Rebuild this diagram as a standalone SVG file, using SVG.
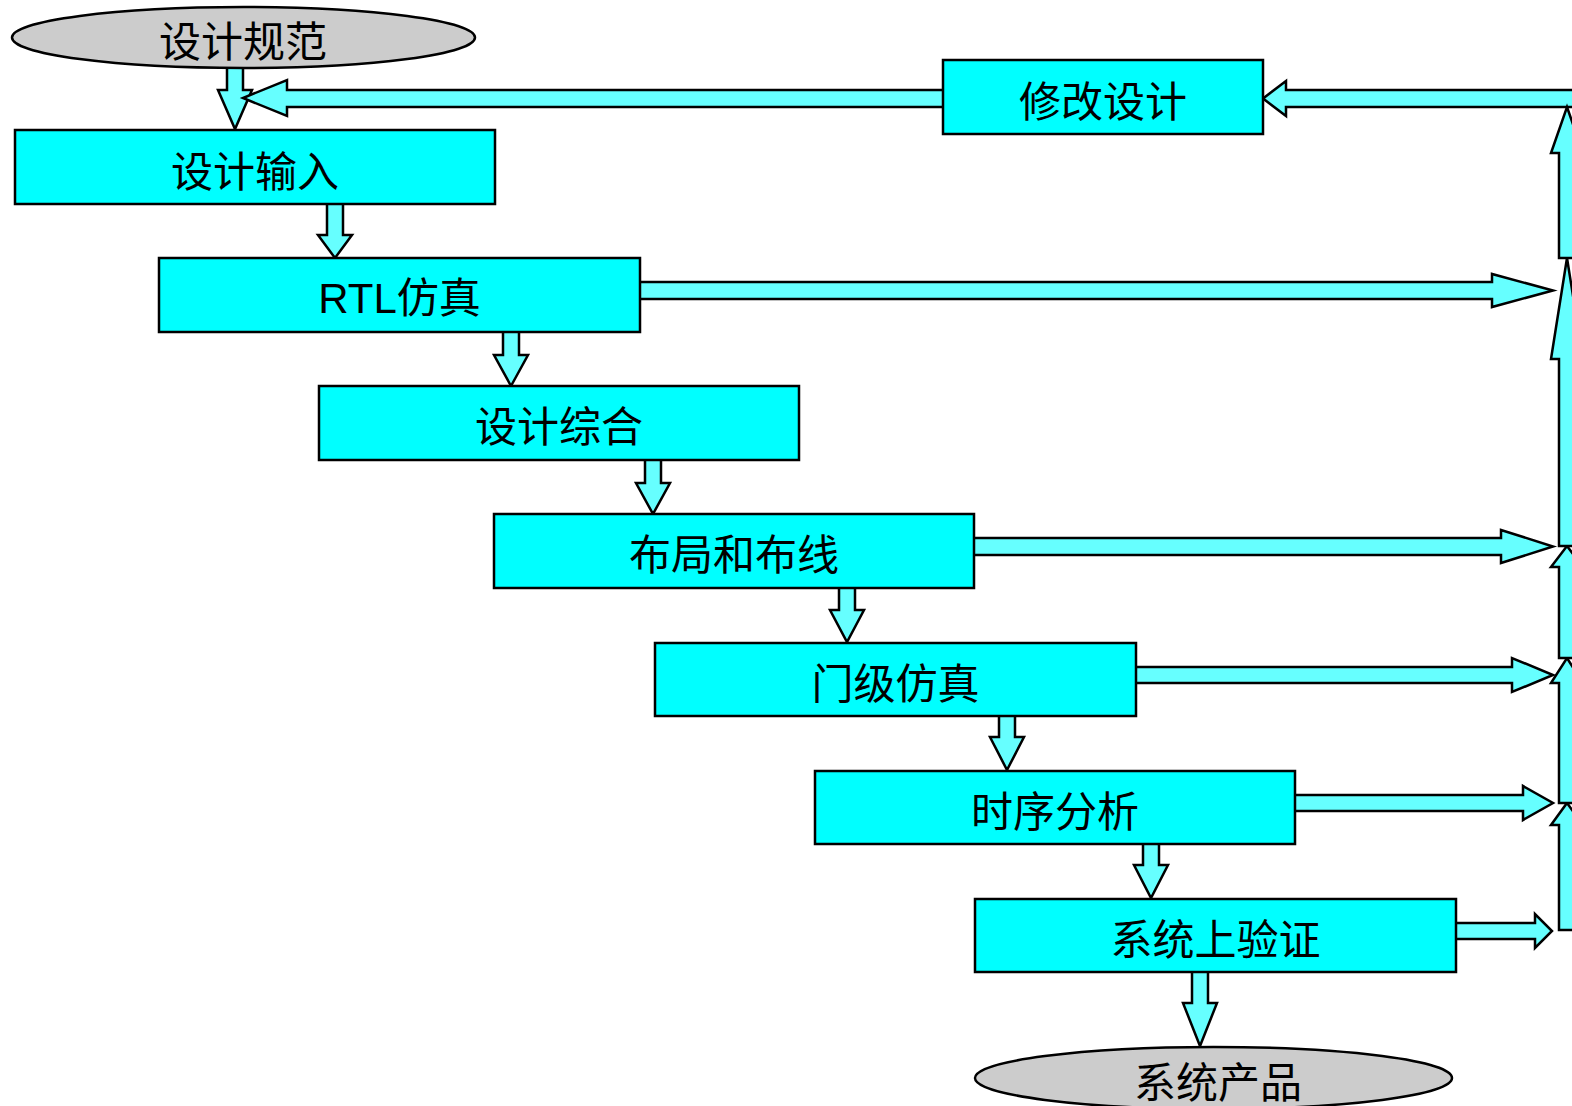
<svg xmlns="http://www.w3.org/2000/svg" width="1572" height="1106" viewBox="0 0 1572 1106">
<style>
.box{fill:#00FFFF;stroke:#000;stroke-width:2.5}
.oval{fill:#CCCCCC;stroke:#000;stroke-width:2.5}
.arr{fill:#66FFFF;stroke:#000;stroke-width:2.5;stroke-linejoin:miter}
.t{font-family:"Liberation Sans","Noto Sans CJK SC",sans-serif;font-size:42px;fill:#000;text-anchor:middle}
</style>
<rect width="1572" height="1106" fill="#fff"/>
<g id="connectors">
<polygon class="arr" points="227,60 243,60 243,90 252,90 235,129 218,90 227,90"/>
<polygon class="arr" points="947,90 287,90 287,80 243,98 287,116 287,107 947,107"/>
<polygon class="arr" points="1580,90 1286,90 1286,81 1263,98.5 1286,116 1286,107 1580,107"/>
<polygon class="arr" points="327,200 343,200 343,235 352,235 335,258 318,235 327,235"/>
<polygon class="arr" points="503,328 519,328 519,355 528,355 511,386 494,355 503,355"/>
<polygon class="arr" points="645,455 661,455 661,483 670,483 653,514 636,483 645,483"/>
<polygon class="arr" points="839,584 855,584 855,610 864,610 847,642 830,610 839,610"/>
<polygon class="arr" points="999,712 1015,712 1015,737 1024,737 1007,770 990,737 999,737"/>
<polygon class="arr" points="1143,840 1159,840 1159,865 1168,865 1151,898 1134,865 1143,865"/>
<polygon class="arr" points="1192,968 1208,968 1208,1003 1217,1003 1200,1046 1183,1003 1192,1003"/>
<polygon class="arr" points="636,282 1492,282 1492,274 1553,290.5 1492,307 1492,299 636,299"/>
<polygon class="arr" points="970,538 1501,538 1501,530 1553,546.5 1501,563 1501,555 970,555"/>
<polygon class="arr" points="1132,667 1512,667 1512,658 1553,675 1512,692 1512,683 1132,683"/>
<polygon class="arr" points="1291,795 1523,795 1523,786 1553,803 1523,820 1523,811 1291,811"/>
<polygon class="arr" points="1452,923 1535,923 1535,914 1552,931 1535,948 1535,939 1452,939"/>
<polygon class="arr" points="1559,930 1559,825 1551,825 1567,803 1583,825 1575,825 1575,930"/>
<polygon class="arr" points="1559,803 1559,683 1551,683 1567,658 1583,683 1575,683 1575,803"/>
<polygon class="arr" points="1559,658 1559,567 1551,567 1567,546 1583,567 1575,567 1575,658"/>
<polygon class="arr" points="1559,546 1559,359 1551,359 1567,258 1583,359 1575,359 1575,546"/>
<polygon class="arr" points="1559,258 1559,153 1551,153 1567,107 1583,153 1575,153 1575,258"/>
</g>
<g id="spec"><ellipse class="oval" cx="243.5" cy="37.5" rx="231.5" ry="30.5"/><text class="t" x="243" y="57">设计规范</text></g>
<g id="modify"><rect class="box" x="943" y="60" width="320" height="74"/><text class="t" x="1103" y="117">修改设计</text></g>
<g id="input"><rect class="box" x="15" y="130" width="480" height="74"/><text class="t" x="255" y="187">设计输入</text></g>
<g id="rtl"><rect class="box" x="159" y="258" width="481" height="74"/><text class="t" x="399.5" y="313">RTL仿真</text></g>
<g id="synth"><rect class="box" x="319" y="386" width="480" height="74"/><text class="t" x="559" y="442">设计综合</text></g>
<g id="pnr"><rect class="box" x="494" y="514" width="480" height="74"/><text class="t" x="734" y="570">布局和布线</text></g>
<g id="gatesim"><rect class="box" x="655" y="643" width="481" height="73"/><text class="t" x="895.5" y="699">门级仿真</text></g>
<g id="timing"><rect class="box" x="815" y="771" width="480" height="73"/><text class="t" x="1055" y="827">时序分析</text></g>
<g id="sysverify"><rect class="box" x="975" y="899" width="481" height="73"/><text class="t" x="1215.5" y="955">系统上验证</text></g>
<g id="product"><ellipse class="oval" cx="1213.5" cy="1078" rx="238.5" ry="31"/><text class="t" x="1218" y="1098">系统产品</text></g>
</svg>
